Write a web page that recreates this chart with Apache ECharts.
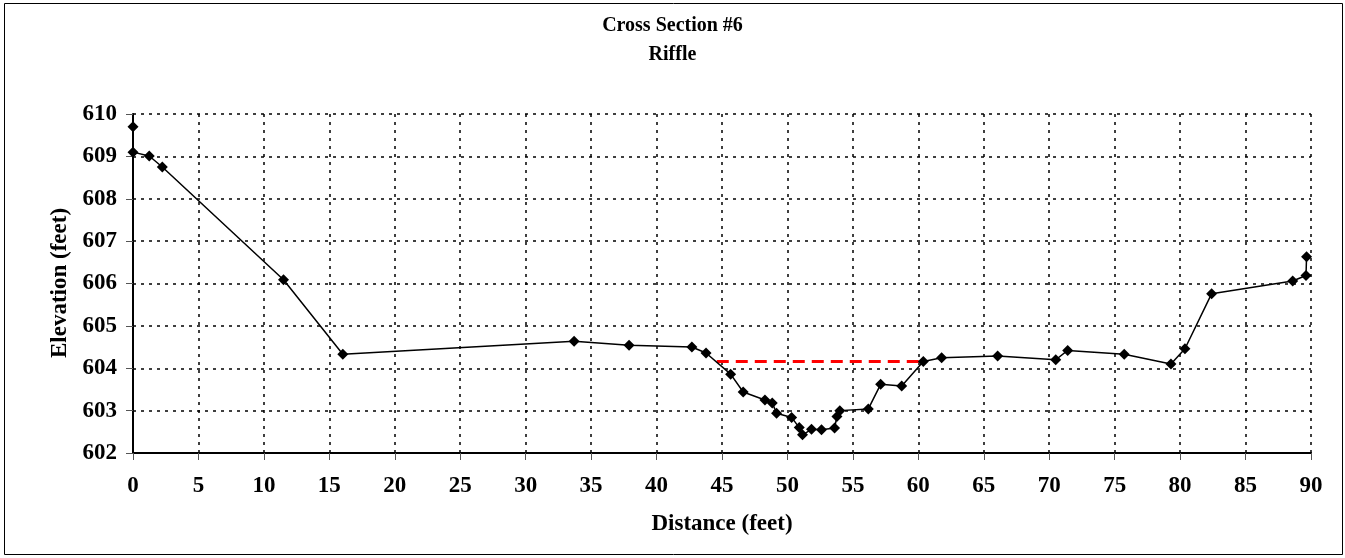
<!DOCTYPE html>
<html>
<head>
<meta charset="utf-8">
<script src="https://cdn.jsdelivr.net/npm/echarts@6/dist/echarts.min.js"></script>
<style>
html,body{margin:0;padding:0;background:#fff;}
#chart{width:1345px;height:558px;}
</style>
</head>
<body>
<div id="chart"></div>
<script>
var distance = [0, 0, 1.24, 2.24, 11.5, 16.03, 33.7, 37.9, 42.7, 43.78, 45.66, 46.62, 48.28, 48.84, 49.17, 50.32, 50.9, 51.15, 51.84, 52.6, 53.6, 53.78, 54.0, 56.18, 57.12, 58.73, 60.38, 61.78, 66.06, 70.5, 71.41, 75.73, 79.3, 80.37, 82.41, 88.6, 89.62, 89.66];
var elevation = [609.70, 609.10, 609.01, 608.75, 606.09, 604.33, 604.64, 604.54, 604.50, 604.36, 603.86, 603.44, 603.25, 603.18, 602.94, 602.84, 602.60, 602.43, 602.56, 602.55, 602.59, 602.86, 603.00, 603.04, 603.62, 603.58, 604.16, 604.25, 604.29, 604.20, 604.42, 604.33, 604.10, 604.46, 605.76, 606.06, 606.19, 606.63];
var waterX = [44.6, 60.4];
var waterY = [604.16, 604.16];
var xTicks = {min: 0, max: 90, interval: 5};
var yTicks = {min: 602, max: 610, interval: 1};
var titleText = 'Cross Section #6';
var subtitleText = 'Riffle';
var xTitle = 'Distance (feet)';
var yTitle = 'Elevation (feet)';

var FONT = '"Liberation Serif", "Times New Roman", serif';
var chart = echarts.init(document.getElementById('chart'), null, {renderer: 'canvas'});

var profile = distance.map(function (d, i) { return [d, elevation[i]]; });
var water = waterX.map(function (d, i) { return [d, waterY[i]]; });

chart.setOption({
  backgroundColor: '#fff',
  animation: false,
  title: {
    text: titleText + '\n' + subtitleText,
    left: 'center',
    top: 6,
    textStyle: {fontFamily: FONT, fontWeight: 'bold', fontSize: 20, color: '#000', lineHeight: 29}
  },
  grid: {left: 133, right: 34, top: 114, bottom: 105, containLabel: false},
  xAxis: {
    type: 'value',
    min: xTicks.min, max: xTicks.max, interval: xTicks.interval,
    axisLine: {show: true, onZero: false, lineStyle: {color: '#000', width: 2}},
    axisTick: {show: true, inside: false, length: 7, lineStyle: {color: '#555'}},
    axisLabel: {margin: 22, fontFamily: FONT, fontWeight: 'bold', fontSize: 23, color: '#000'},
    splitLine: {show: true, lineStyle: {color: '#000', type: [3, 5], width: 1.5}}
  },
  yAxis: {
    type: 'value',
    min: yTicks.min, max: yTicks.max, interval: yTicks.interval,
    axisLine: {show: true, onZero: false, lineStyle: {color: '#000', width: 2}},
    axisTick: {show: true, inside: false, length: 7, lineStyle: {color: '#555'}},
    axisLabel: {margin: 16, fontFamily: FONT, fontWeight: 'bold', fontSize: 23, color: '#000'},
    splitLine: {show: true, lineStyle: {color: '#000', type: [3, 5], width: 1.5}}
  },
  graphic: [
    {type: 'rect', shape: {x: 4.5, y: 3.5, width: 1338, height: 551}, style: {fill: 'none', stroke: '#000', lineWidth: 1}, silent: true, z: -1},
    {type: 'text', x: 722, y: 524, style: {text: xTitle, font: 'bold 23px ' + FONT, fill: '#000', textAlign: 'center', textVerticalAlign: 'middle'}},
    {type: 'text', x: 60, y: 283, rotation: Math.PI / 2, style: {text: yTitle, font: 'bold 23px ' + FONT, fill: '#000', textAlign: 'center', textVerticalAlign: 'middle'}}
  ],
  series: [
    {
      type: 'line',
      data: profile,
      symbol: 'diamond',
      symbolSize: 11,
      lineStyle: {color: '#000', width: 1.5},
      itemStyle: {color: '#000'},
      z: 3
    },
    {
      type: 'line',
      data: water,
      symbol: 'none',
      lineStyle: {color: '#ff0000', width: 3, type: [12, 7]},
      z: 2
    }
  ]
});
</script>
</body>
</html>
